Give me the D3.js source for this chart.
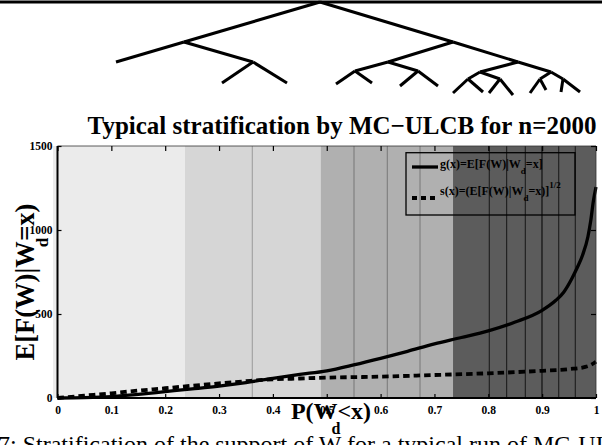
<!DOCTYPE html>
<html><head><meta charset="utf-8">
<script src="https://cdn.jsdelivr.net/npm/d3@7"></script>
<style>body{margin:0;background:#fff}svg{display:block}text{font-family:"Liberation Serif","Times New Roman",serif;font-weight:bold}</style>
</head><body>
<script>
// ---- data ----
const xTickValues = [0,0.1,0.2,0.3,0.4,0.5,0.6,0.7,0.8,0.9,1];
const xTickLabels = ["0","0.1","0.2","0.3","0.4","0.5","0.6","0.7","0.8","0.9","1"];
const yTickValues = [0,500,1000,1500];
const yTickLabels = ["0","500","1000","1500"];
// strata bands (start, end) and fill
const bandStart = [0, 0.2368, 0.4887, 0.7345];
const bandEnd   = [0.2368, 0.4887, 0.7345, 1];
const bandFill  = ["#ebebeb", "#d6d6d6", "#b0b0b0", "#5c5c5c"];
// inner strata boundaries
const strataLines = [0.3618, 0.5506, 0.6125, 0.6732, 0.8019, 0.8340, 0.8688, 0.8997, 0.9307, 0.9616];
const strataColor = ["#a4a4a4","#808080","#808080","#808080","#222","#222","#222","#111","#222","#222"];
// g(x)
const gX = [0,0.05,0.1,0.15,0.2,0.25,0.3,0.35,0.4,0.45,0.5,0.55,0.6,0.65,0.7,0.75,0.8,0.85,0.9,0.925,0.94,0.955,0.965,0.975,0.985,0.99,0.995,1];
const gY = [0,2,8,22,38,54,71,92,117,140,162,197,236,278,322,360,400,452,522,580,630,710,775,850,960,1050,1170,1256];
// s(x)
const sX = [0,0.05,0.1,0.15,0.2,0.25,0.3,0.35,0.4,0.45,0.5,0.6,0.7,0.8,0.9,0.95,0.98,0.99,1];
const sY = [0,14,28,44,58,73,87,100,111,116,121,127,137,147,162,172,185,196,216];
// tree (schematic of the stratification), as parent -> child segments
const treeNodes = {
  root:[320,2], L:[184,42], LL:[116,62], LR:[253,62], LRa:[222,83], LRb:[287,83],
  R:[453,42], RL:[388,62], RR:[518,62],
  RLa:[355,71], RLb:[418,71], RLa1:[336,84], RLa2:[372,83], RLb1:[400,86], RLb2:[438,86],
  RRa:[480,72], RRb:[551,72], RRa1:[468,79], RRa2:[500,79], RRb1:[540,79], RRb2:[563,79],
  RRa1x:[453,93], RRa1y:[483,92], RRa2x:[489,93], RRa2y:[513,95],
  RRb1x:[530,93], RRb1y:[546,90], RRb2x:[561,92], RRb2y:[580,92]
};
const treeEdges = [["root","L"],["L","LL"],["L","LR"],["LR","LRa"],["LR","LRb"],
  ["root","R"],["R","RL"],["R","RR"],["RL","RLa"],["RL","RLb"],["RLa","RLa1"],["RLa","RLa2"],["RLb","RLb1"],["RLb","RLb2"],
  ["RR","RRa"],["RR","RRb"],["RRa","RRa1"],["RRa","RRa2"],["RRb","RRb1"],["RRb","RRb2"],
  ["RRa1","RRa1x"],["RRa1","RRa1y"],["RRa2","RRa2x"],["RRa2","RRa2y"],["RRb1","RRb1x"],["RRb1","RRb1y"],["RRb2","RRb2x"],["RRb2","RRb2y"]];

// ---- drawing ----
const W = 602, H = 445;
const svg = d3.select("body").append("svg").attr("width", W).attr("height", H);
const m = {left:57.5, right:596, top:146, bottom:398};
const x = d3.scaleLinear().domain([0,1]).range([m.left, m.right]);
const y = d3.scaleLinear().domain([0,1500]).range([m.bottom, m.top]);

// top rule and tree
svg.append("line").attr("x1",0).attr("x2",W).attr("y1",2).attr("y2",2).attr("stroke","#000").attr("stroke-width",3);
svg.append("g").selectAll("line").data(treeEdges).join("line")
  .attr("x1",d=>treeNodes[d[0]][0]).attr("y1",d=>treeNodes[d[0]][1])
  .attr("x2",d=>treeNodes[d[1]][0]).attr("y2",d=>treeNodes[d[1]][1])
  .attr("stroke","#000").attr("stroke-width",3);

// title
svg.append("text").attr("x",342).attr("y",134).attr("text-anchor","middle")
  .style("font-size","25px").text("Typical stratification by MC\u2212ULCB for n=2000");

// bands
svg.append("rect").attr("x",m.left-4.5).attr("y",m.top).attr("width",4.5).attr("height",m.bottom-m.top).attr("fill",bandFill[0]);
svg.append("g").selectAll("rect").data(bandStart).join("rect")
  .attr("x",(d)=>x(d)).attr("width",(d,i)=>x(bandEnd[i])-x(d))
  .attr("y",m.top).attr("height",m.bottom-m.top).attr("fill",(d,i)=>bandFill[i]);
svg.append("g").selectAll("line").data(strataLines).join("line")
  .attr("x1",d=>x(d)).attr("x2",d=>x(d)).attr("y1",m.top).attr("y2",m.bottom)
  .attr("stroke",(d,i)=>strataColor[i]).attr("stroke-width",1.2);

// curves
const gData = gX.map((v,i)=>[v,gY[i]]);
const sData = sX.map((v,i)=>[v,sY[i]]);
const line = d3.line().x(d=>x(d[0])).y(d=>y(d[1])).curve(d3.curveMonotoneX);
svg.append("path").datum(gData).attr("d",line).attr("fill","none").attr("stroke","#000").attr("stroke-width",3.3);
svg.append("path").datum(sData).attr("d",line).attr("fill","none").attr("stroke","#000").attr("stroke-width",3.8).attr("stroke-dasharray","6.5,4");

// axes frame
svg.append("line").attr("x1",m.left).attr("x2",m.right).attr("y1",m.top).attr("y2",m.top).attr("stroke","#333").attr("stroke-width",0.8);
svg.append("line").attr("x1",m.right).attr("x2",m.right).attr("y1",m.top).attr("y2",m.bottom).attr("stroke","#333").attr("stroke-width",0.8);

const xAxis = svg.append("g").attr("transform",`translate(0,${m.bottom})`)
  .call(d3.axisBottom(x).tickValues(xTickValues).tickFormat((d,i)=>xTickLabels[i]).tickSizeInner(-4).tickSizeOuter(0).tickPadding(8));
const xAxisTop = svg.append("g").attr("transform",`translate(0,${m.top})`)
  .call(d3.axisTop(x).tickValues(xTickValues).tickFormat("").tickSizeInner(-5).tickSizeOuter(0));
const yAxis = svg.append("g").attr("transform",`translate(${m.left},0)`)
  .call(d3.axisLeft(y).tickValues(yTickValues).tickFormat((d,i)=>yTickLabels[i]).tickSizeInner(-4).tickSizeOuter(0).tickPadding(5));
const yAxisR = svg.append("g").attr("transform",`translate(${m.right},0)`)
  .call(d3.axisRight(y).tickValues(yTickValues).tickFormat("").tickSizeInner(-5).tickSizeOuter(0));
[xAxis,xAxisTop,yAxis,yAxisR].forEach(a=>{a.select(".domain").remove();a.selectAll("line").attr("stroke","#000").attr("stroke-width",1.2);});
xAxis.selectAll("text").style("font-size","11.5px").attr("fill","#000");
yAxis.selectAll("text").style("font-size","11.5px").attr("fill","#000");
svg.append("line").attr("x1",m.left).attr("x2",m.right).attr("y1",m.bottom).attr("y2",m.bottom).attr("stroke","#000").attr("stroke-width",2);
svg.append("line").attr("x1",m.left).attr("x2",m.left).attr("y1",m.top).attr("y2",m.bottom).attr("stroke","#000").attr("stroke-width",2);

// x label
const xl = svg.append("text").attr("x",331).attr("y",419).attr("text-anchor","middle").style("font-size","24px");
xl.append("tspan").text("P(W");
xl.append("tspan").attr("dy",15).attr("dx",-6).style("font-size","16px").text("d");
xl.append("tspan").attr("dy",-15).attr("dx",-3).text("<x)");

// y label
const yl = svg.append("text").attr("transform","translate(34,282) rotate(-90)").attr("text-anchor","middle").style("font-size","26.5px");
yl.append("tspan").text("E[F(W)|W");
yl.append("tspan").attr("dy",14).attr("dx",-6).style("font-size","17px").text("d");
yl.append("tspan").attr("dy",-14).attr("dx",-3).text("=x)");

// legend
svg.append("rect").attr("x",406).attr("y",152.7).attr("width",169).attr("height",62.3).attr("fill","none").attr("stroke","#000").attr("stroke-width",1.3);
svg.append("line").attr("x1",412).attr("x2",438).attr("y1",167).attr("y2",167).attr("stroke","#000").attr("stroke-width",3.3);
svg.append("line").attr("x1",412).attr("x2",438).attr("y1",198).attr("y2",198).attr("stroke","#000").attr("stroke-width",3.8).attr("stroke-dasharray","5,4");
const lg1 = svg.append("text").attr("x",440).attr("y",168).style("font-size","12px");
lg1.append("tspan").text("g(x)=E[F(W)|W");
lg1.append("tspan").attr("dy",6).style("font-size","9px").text("d");
lg1.append("tspan").attr("dy",-6).text("=x]");
const lg2 = svg.append("text").attr("x",440).attr("y",195).style("font-size","12px");
lg2.append("tspan").text("s(x)=(E[F(W)|W");
lg2.append("tspan").attr("dy",6).style("font-size","9px").text("d");
lg2.append("tspan").attr("dy",-6).text("=x)]");
lg2.append("tspan").attr("dy",-7).style("font-size","9px").text("1/2");

// caption (cut off at bottom, as in the source page)
svg.append("text").attr("x",-2).attr("y",452).style("font-size","24px").style("font-weight","normal")
  .text("7: Stratification of the support of W  for a typical run of MC-ULCB");
</script>
</body></html>
